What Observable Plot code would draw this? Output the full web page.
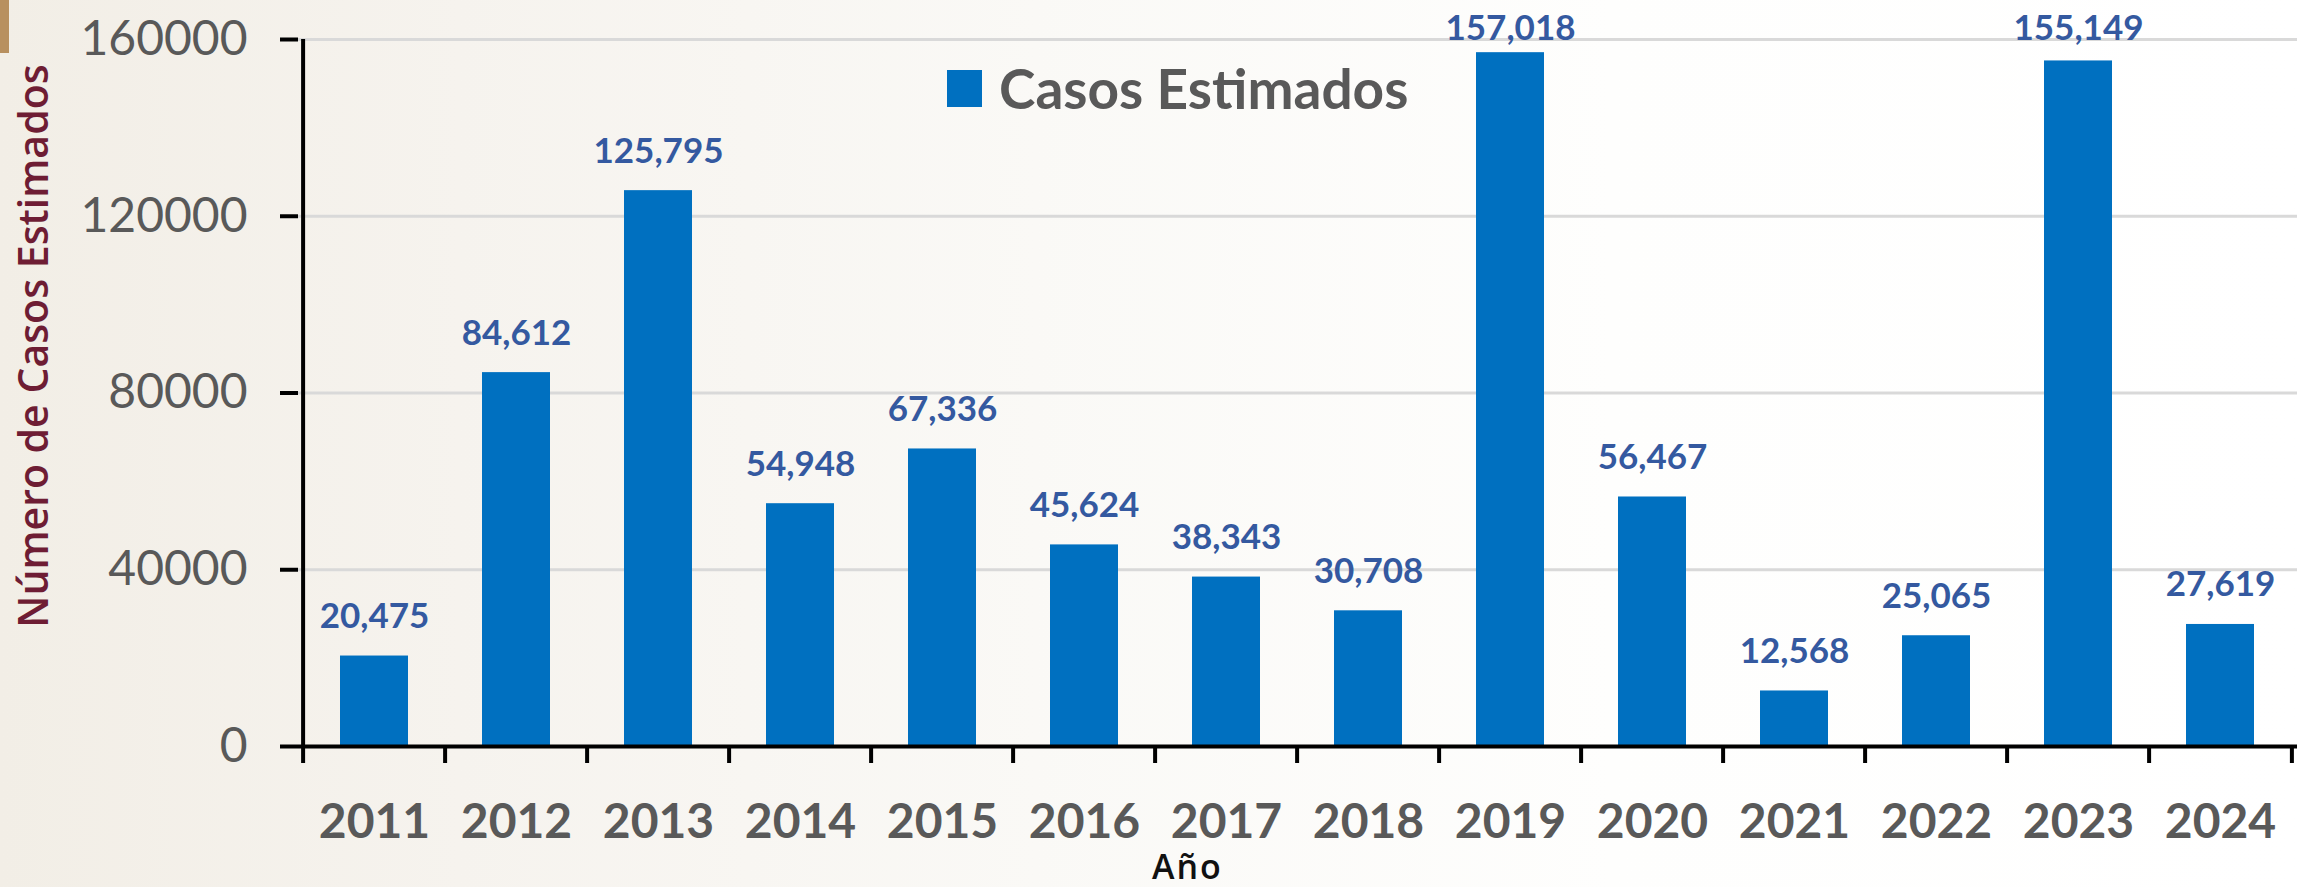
<!DOCTYPE html>
<html><head><meta charset="utf-8">
<script src="https://cdn.jsdelivr.net/npm/d3@7"></script>
<script src="https://cdn.jsdelivr.net/npm/@observablehq/plot@0.6"></script>
<style>
html,body{margin:0;padding:0;}
body{width:2301px;height:887px;position:relative;overflow:hidden;
  background:linear-gradient(90deg,#f2eee6 0%,#f6f3ee 20%,#faf9f6 45%,#fefefd 70%,#ffffff 100%);
  font-family:Lato,sans-serif;}
#chart{position:absolute;left:0;top:0;}
.corner{position:absolute;left:0;top:0;width:9px;height:53px;background:#B8905F;}
.legend{position:absolute;left:947px;top:55px;display:flex;align-items:center;font-weight:700;color:#595959;font-size:55px;line-height:1.2;white-space:nowrap;}
.legend .sw{width:35px;height:37px;background:#0070C0;margin-right:17px;}
.ytitle{position:absolute;left:32px;top:346px;transform:translate(-50%,-50%) rotate(-90deg);white-space:nowrap;color:#6E1D34;font-family:"Open Sans",sans-serif;font-weight:600;font-size:41px;line-height:1;}
.xtitle{position:absolute;left:1152px;top:849px;color:#111;font-family:"Open Sans",sans-serif;font-weight:600;font-size:34px;line-height:1;letter-spacing:2px;}
</style>
</head><body>
<div class="corner"></div>
<div id="chart"></div>
<div class="legend"><div class="sw"></div><span>Casos Estimados</span></div>
<div class="ytitle">Número de Casos Estimados</div>
<div class="xtitle">Año</div>
<script>
const years = ["2011","2012","2013","2014","2015","2016","2017","2018","2019","2020","2021","2022","2023","2024"];
const casos = [20475, 84612, 125795, 54948, 67336, 45624, 38343, 30708, 157018, 56467, 12568, 25065, 155149, 27619];
const yTicks = [0, 40000, 80000, 120000, 160000];
const gridTicks = [40000, 80000, 120000, 160000];

const data = years.map((y, i) => ({year: y, value: casos[i]}));

const W = 2301, H = 887;
const mL = 298, mR = 4, mT = 39, mB = 141;
const step = (W - mL - mR) / years.length;
const yMax = 160000;
const labelGap = 28 * yMax / (H - mT - mB); // pixel gap expressed in data units
const fmt = d3.format(",");

const chart = Plot.plot({
  width: W, height: H,
  marginLeft: mL, marginRight: mR, marginTop: mT, marginBottom: mB,
  style: {fontFamily: "Lato, sans-serif", background: "transparent", overflow: "visible"},
  x: {domain: years, paddingInner: 0.52, paddingOuter: 0.26, label: null},
  y: {domain: [0, yMax], label: null},
  marks: [
    Plot.ruleY(gridTicks, {stroke: "#d9d9d9", strokeWidth: 3}),
    Plot.barY(data, {x: "year", y: "value", fill: "#0070C0"}),
    Plot.ruleY([0], {stroke: "black", strokeWidth: 4}),
    Plot.ruleX([years[0]], {y1: 0, y2: yMax, dx: -step / 2, stroke: "black", strokeWidth: 4}),
    Plot.axisY(yTicks, {tickSize: 18, tickPadding: 33, fontSize: 48, stroke: "black", strokeWidth: 4, fill: "#595959", color: "#595959", tickFormat: d => String(d), label: null}),
    Plot.axisX(years, {tickSize: 0, tickPadding: 57, fontSize: 48, fontWeight: 700, fill: "#595959", color: "#595959", label: null}),
    Plot.axisX(years, {tickSize: 17, dx: -step / 2, stroke: "black", strokeWidth: 4, tickFormat: () => "", label: null}),
    Plot.axisX([years[years.length - 1]], {tickSize: 17, dx: step / 2, stroke: "black", strokeWidth: 4, tickFormat: () => "", label: null}),
    Plot.text(data, {
      x: "year",
      y: d => Math.min(d.value + labelGap, yMax),
      text: d => fmt(d.value),
      lineAnchor: "bottom",
      fontSize: 35, fontWeight: 700, fill: "#3459A0"
    })
  ]
});
document.getElementById("chart").appendChild(chart);
</script>
</body></html>
